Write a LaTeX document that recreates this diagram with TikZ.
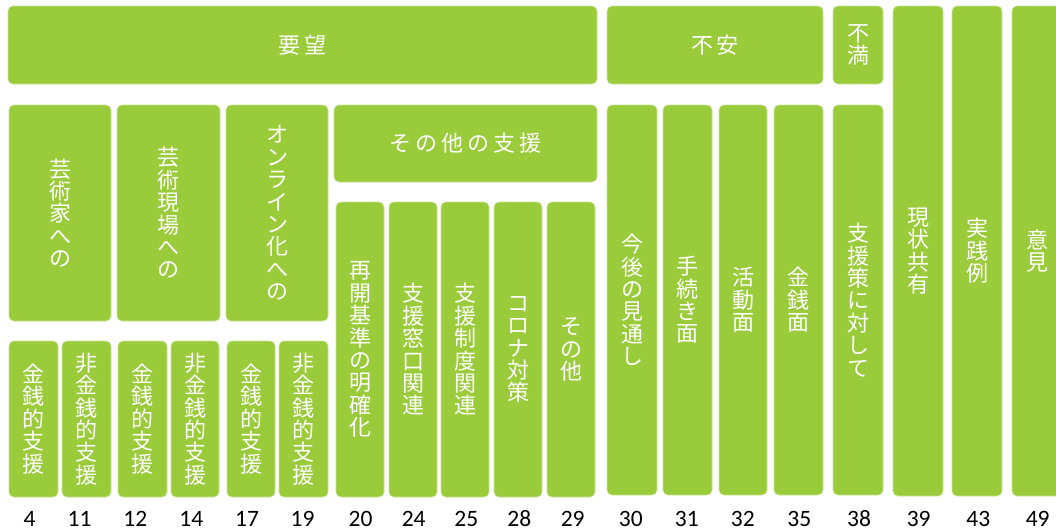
\documentclass[tikz,border=0pt]{standalone}
\usepackage{fontspec}
\newfontfamily\jp{Noto Sans CJK JP}
\newfontfamily\numfont{Carlito}
\definecolor{boxgreen}{RGB}{154,203,58}
\tikzset{
  box/.style={fill=boxgreen, draw=boxgreen!55!white, line width=0.6pt, rounded corners=5pt,
    inner sep=0pt, text=white, align=center, font=\jp\fontsize{22}{22.4}\selectfont},
  numlabel/.style={anchor=base, inner sep=0pt, font=\numfont\fontsize{23.5}{24}\selectfont, text=black}
}
\newcommand\hs{\kern4pt }
\begin{document}
\begin{tikzpicture}[x=1pt,y=-1pt]
\clip (0,0) rectangle (1056,531);
% top row
\node[box, minimum width=589, minimum height=78] (yobo) at (302.5,45) {要\hs 望};
\node[box, minimum width=216, minimum height=78] (fuan) at (715,45) {不\hs 安};
\node[box, minimum width=50, minimum height=78] (fuman) at (858,45) {不\\満};
\node[box, minimum width=50, minimum height=490] (genjo) at (918,251) {現\\状\\共\\有};
\node[box, minimum width=50, minimum height=490] (jissen) at (977,251) {実\\践\\例};
\node[box, minimum width=50, minimum height=490] (iken) at (1037,251) {意\\見};
% middle row
\node[box, minimum width=102, minimum height=216] (geika) at (60,213) {芸\\術\\家\\へ\\の};
\node[box, minimum width=103, minimum height=216] (genba) at (168.5,213) {芸\\術\\現\\場\\へ\\の};
\node[box, minimum width=102, minimum height=216] (online) at (277,213) {オ\\ン\\ラ\\イ\\ン\\化\\へ\\の};
\node[box, minimum width=263, minimum height=77] (sonotashien) at (465.5,143.5) {そ\hs の\hs 他\hs の\hs 支\hs 援};
\node[box, minimum width=50, minimum height=390] (mitoshi) at (632,300) {今\\後\\の\\見\\通\\し};
\node[box, minimum width=49, minimum height=390] (tetsuzuki) at (687.5,300) {手\\続\\き\\面};
\node[box, minimum width=48, minimum height=390] (katsudo) at (743,300) {活\\動\\面};
\node[box, minimum width=49, minimum height=390] (kinsenmen) at (798.5,300) {金\\銭\\面};
\node[box, minimum width=50, minimum height=390] (shiensaku) at (858,300) {支\\援\\策\\に\\対\\し\\て};
% bottom row
\node[box, minimum width=49, minimum height=156] (a1) at (33.5,419) {金\\銭\\的\\支\\援};
\node[box, minimum width=49, minimum height=156] (a2) at (86.5,419) {非\\金\\銭\\的\\支\\援};
\node[box, minimum width=49, minimum height=156] (b1) at (142.5,419) {金\\銭\\的\\支\\援};
\node[box, minimum width=48, minimum height=156] (b2) at (195,419) {非\\金\\銭\\的\\支\\援};
\node[box, minimum width=48, minimum height=156] (c1) at (251,419) {金\\銭\\的\\支\\援};
\node[box, minimum width=49, minimum height=156] (c2) at (303.5,419) {非\\金\\銭\\的\\支\\援};
\node[box, minimum width=48, minimum height=295] (d1) at (360,349.5) {再\\開\\基\\準\\の\\明\\確\\化};
\node[box, minimum width=48, minimum height=295] (d2) at (413,349.5) {支\\援\\窓\\口\\関\\連};
\node[box, minimum width=48, minimum height=295] (d3) at (465,349.5) {支\\援\\制\\度\\関\\連};
\node[box, minimum width=48, minimum height=295] (d4) at (518,349.5) {コ\\ロ\\ナ\\対\\策};
\node[box, minimum width=48, minimum height=295] (d5) at (571,349.5) {そ\\の\\他};
% numbers
\node[numlabel] (n4) at (29.7,526.7) {4};
\node[numlabel] (n11) at (79.5,526.7) {11};
\node[numlabel] (n12) at (135.3,526.7) {12};
\node[numlabel] (n14) at (191.3,526.7) {14};
\node[numlabel] (n17) at (247,526.7) {17};
\node[numlabel] (n19) at (302.5,526.7) {19};
\node[numlabel] (n20) at (360.5,526.7) {20};
\node[numlabel] (n24) at (413.7,526.7) {24};
\node[numlabel] (n25) at (466.3,526.7) {25};
\node[numlabel] (n28) at (519.3,526.7) {28};
\node[numlabel] (n29) at (572.7,526.7) {29};
\node[numlabel] (n30) at (630.8,526.7) {30};
\node[numlabel] (n31) at (686.8,526.7) {31};
\node[numlabel] (n32) at (742.8,526.7) {32};
\node[numlabel] (n35) at (799.3,526.7) {35};
\node[numlabel] (n38) at (859,526.7) {38};
\node[numlabel] (n39) at (918.7,526.7) {39};
\node[numlabel] (n43) at (978.3,526.7) {43};
\node[numlabel] (n49) at (1037.7,526.7) {49};
\end{tikzpicture}
\end{document}
